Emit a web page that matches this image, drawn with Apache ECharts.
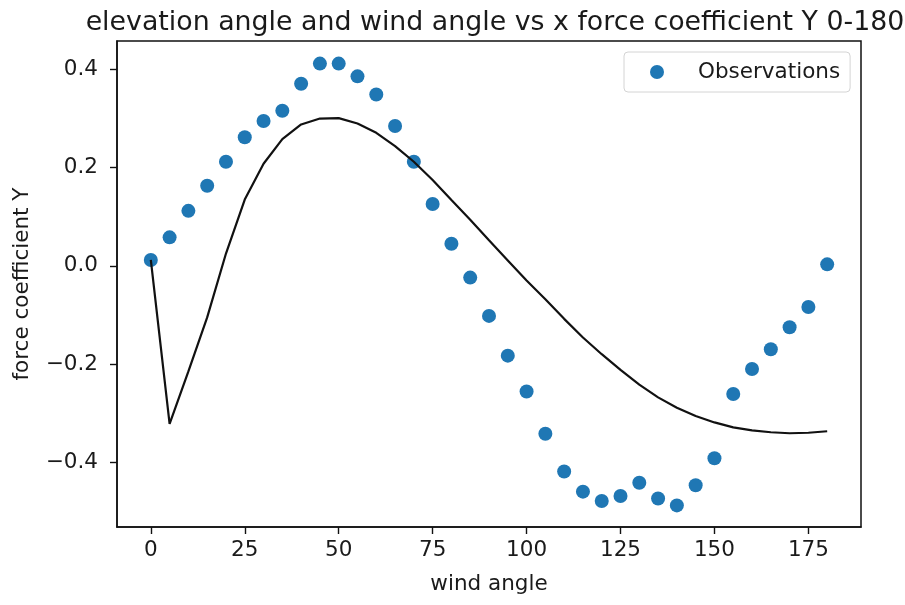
<!DOCTYPE html>
<html>
<head>
<meta charset="utf-8">
<script src="https://cdn.jsdelivr.net/npm/echarts@6/dist/echarts.min.js"></script>
<style>
html,body{margin:0;padding:0;background:#fff;}
#chart{width:905px;height:605px;}
</style>
</head>
<body>
<div id="chart"></div>
<script>
var titleText = 'elevation angle and wind angle vs x force coefficient Y 0-180';
var xName = 'wind angle';
var yName = 'force coefficient Y';
var legendName = 'Observations';

var angles = [0,5,10,15,20,25,30,35,40,45,50,55,60,65,70,75,80,85,90,95,100,105,110,115,120,125,130,135,140,145,150,155,160,165,170,175,180];
var observations = [0.012,0.058,0.112,0.163,0.212,0.262,0.295,0.316,0.371,0.412,0.412,0.386,0.349,0.285,0.212,0.126,0.045,-0.024,-0.102,-0.183,-0.256,-0.342,-0.419,-0.460,-0.479,-0.469,-0.442,-0.474,-0.488,-0.447,-0.392,-0.261,-0.210,-0.170,-0.125,-0.084,0.003];
var model = [0.012,-0.322,-0.215,-0.105,0.025,0.135,0.208,0.258,0.288,0.300,0.301,0.290,0.271,0.244,0.212,0.175,0.134,0.094,0.052,0.011,-0.030,-0.068,-0.108,-0.146,-0.180,-0.212,-0.242,-0.268,-0.289,-0.306,-0.319,-0.329,-0.335,-0.339,-0.341,-0.340,-0.337];
var xTicks = [0,25,50,75,100,125,150,175];
var yTicks = [-0.4,-0.2,0.0,0.2,0.4];

var font = 'DejaVu Sans';
var txt = '#1a1a1a';

var chart = echarts.init(document.getElementById('chart'));
chart.setOption({
  backgroundColor: '#fff',
  animation: false,
  title: {
    text: titleText,
    left: 490,
    textAlign: 'center',
    top: 5,
    textStyle: {fontFamily: font, fontSize: 26.8, fontWeight: 'normal', color: txt}
  },
  legend: {
    data: [legendName],
    left: 624,
    top: 52,
    orient: 'vertical',
    icon: 'circle',
    itemWidth: 14,
    itemHeight: 14,
    padding: [9, 10, 9, 26],
    borderColor: '#d4d4d4',
    borderWidth: 1,
    borderRadius: 4,
    backgroundColor: '#fff',
    textStyle: {fontFamily: font, fontSize: 21.5, color: txt, padding: [0,0,0,29]}
  },
  grid: {
    left: 117, right: 44, top: 41, bottom: 78,
    show: true, borderColor: '#111', borderWidth: 1.5, backgroundColor: '#fff'
  },
  xAxis: {
    type: 'value',
    min: -9, max: 189,
    name: xName,
    nameLocation: 'middle',
    nameGap: 46,
    nameTextStyle: {fontFamily: font, fontSize: 21.5, color: txt},
    splitLine: {show: false},
    axisLine: {show: true, onZero: false, lineStyle: {color: '#111', width: 1.5}},
    axisTick: {show: true, length: 7, customValues: xTicks, lineStyle: {color: '#111', width: 1.4}},
    axisLabel: {customValues: xTicks, margin: 12, fontFamily: font, fontSize: 21.5, color: txt}
  },
  yAxis: {
    type: 'value',
    min: -0.532, max: 0.458,
    name: yName,
    nameLocation: 'middle',
    nameGap: 84,
    nameTextStyle: {fontFamily: font, fontSize: 21.5, color: txt},
    splitLine: {show: false},
    axisLine: {show: true, onZero: false, lineStyle: {color: '#111', width: 1.5}},
    axisTick: {show: true, length: 7, customValues: yTicks, lineStyle: {color: '#111', width: 1.4}},
    axisLabel: {
      customValues: yTicks, margin: 19, fontFamily: font, fontSize: 21.5, color: txt,
      formatter: function (v) { return (v < 0 ? '\u2212' : '') + Math.abs(v).toFixed(1); }
    }
  },
  series: [
    {
      name: 'model',
      type: 'line',
      data: angles.map(function (a, i) { return [a, model[i]]; }),
      showSymbol: false,
      symbol: 'none',
      lineStyle: {color: '#111', width: 2.2},
      z: 3
    },
    {
      name: legendName,
      type: 'scatter',
      data: angles.map(function (a, i) { return [a, observations[i]]; }),
      symbolSize: 14,
      itemStyle: {color: '#1f77b4', opacity: 1},
      z: 2
    }
  ]
});
</script>
</body>
</html>
